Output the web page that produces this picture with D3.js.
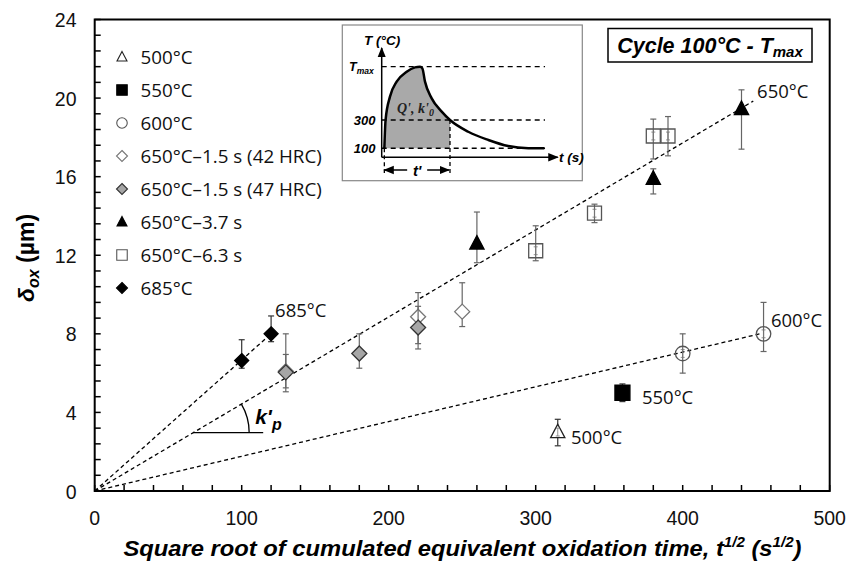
<!DOCTYPE html>
<html><head><meta charset="utf-8">
<script src="https://cdn.jsdelivr.net/npm/d3@7"></script>
<style>
body{margin:0;background:#fff;}
svg{display:block;}
</style></head>
<body>
<svg id="c" width="847" height="561"></svg>
<script>
// ---------- DATA ----------
const xTicks = [0,100,200,300,400,500];
const yTicks = [0,4,8,12,16,20,24];
const legendLabels = ["500°C","550°C","600°C","650°C\u20131.5 s (42 HRC)","650°C\u20131.5 s (47 HRC)","650°C\u20133.7 s","650°C\u20136.3 s","685°C"];
const legendKeys = ["s500","s550","s600","s650a","s650b","s650c","s650d","s685"];
// points: [x, y, low, high]
const s500  = [[315, 3.0, 2.3, 3.65]];
const s550  = [[359, 5.0, 4.55, 5.45]];
const s600  = [[400, 7.0, 6.0, 8.0],[455, 8.0, 7.1, 9.6]];
const s650a = [[130, 6.1, 5.25, 6.95],[220, 8.87, 7.5, 10.1],[250, 9.13, 8.37, 10.6]];
const s650b = [[130, 6.04, 5.05, 8.0],[180, 7.0, 6.25, 8.0],[220, 8.32, 7.23, 9.4]];
const s650c = [[260, 12.6, 11.62, 14.2],[380, 15.9, 15.12, 16.4],[440, 19.45, 17.4, 20.42]];
const s650d = [[300, 12.23, 11.72, 13.5],[340, 14.14, 13.66, 14.6],[380, 18.07, 16.9, 18.93],[390, 18.07, 17.06, 19.06]];
const s685  = [[100, 6.64, 6.25, 7.7],[120, 8.0, 7.6, 8.91]];
// small inner error bars (±) drawn inside open markers
const innerErr = 0.2;
// fitted lines through origin: [slope, xEnd]
const fit685 = [0.0667, 122];
const fit650 = [0.0443, 448];
const fit600 = [0.01768, 454];
// point labels: [text, x, y(baseline)]
const ptLabels = [["685°C",122.7,8.88],["650°C",450.6,19.98],["600°C",460,8.35],["550°C",372.3,4.43],["500°C",324,2.40]];
// inset curve (time, temperature) – schematic
const insetT    = [0.15,0.22,0.47,0.85,1.42,1.89,2.18,2.31,2.46,2.84,3.41,3.88,4.92,6.06,7.19,8.33,9.24];
const insetTemp = [100,300,465,571,641,672,677,665,571,453,359,300,217,159,116,101,100];
const insetTmax = 677, insetTprime = 3.88;

// ---------- SETUP ----------
const svg = d3.select("#c");
const x = d3.scaleLinear().domain([0,500]).range([94.7,829.7]);
const y = d3.scaleLinear().domain([0,24]).range([491,19.5]);
const numFont = "'Liberation Sans',Arial,sans-serif";
const txtFont = "'Open Sans','Noto Sans',sans-serif";
const grey = "#555";

// frame
svg.append("rect").attr("x",x(0)).attr("y",y(24)).attr("width",x(500)-x(0)).attr("height",y(0)-y(24))
  .attr("fill","none").attr("stroke","#000").attr("stroke-width",2);

// ticks (inside)
const xMinor = d3.range(0,501,20);
svg.append("g").selectAll("line").data(xMinor).join("line")
  .attr("x1",d=>x(d)).attr("x2",d=>x(d)).attr("y1",y(0)).attr("y2",y(0)-6)
  .attr("stroke","#000").attr("stroke-width",1.5);
const yMinor = d3.range(0,24.01,0.8);
svg.append("g").selectAll("line").data(yMinor).join("line")
  .attr("x1",x(0)).attr("x2",x(0)+6).attr("y1",d=>y(d)).attr("y2",d=>y(d))
  .attr("stroke","#000").attr("stroke-width",1.5);

// tick labels
svg.append("g").selectAll("text").data(xTicks).join("text")
  .attr("x",d=>x(d)).attr("y",y(0)+34).attr("text-anchor","middle")
  .attr("font-family",numFont).attr("font-size",19.5).attr("fill","#111").text(d=>d);
svg.append("g").selectAll("text").data(yTicks).join("text")
  .attr("x",76.5).attr("y",d=>y(d)+7.5).attr("text-anchor","end")
  .attr("font-family",numFont).attr("font-size",19.5).attr("fill","#111").text(d=>d);

// axis titles
const xt = svg.append("text").attr("x",462.5).attr("y",556).attr("text-anchor","middle")
  .attr("font-family","'Liberation Sans',Arial,sans-serif").attr("font-size",22)
  .attr("font-weight","bold").attr("font-style","italic")
  .attr("textLength",678).attr("lengthAdjust","spacingAndGlyphs");
xt.append("tspan").text("Square root of cumulated equivalent oxidation time, t");
xt.append("tspan").attr("font-size",14).attr("dy",-9).text("1/2");
xt.append("tspan").attr("dy",9).text(" (s");
xt.append("tspan").attr("font-size",14).attr("dy",-9).text("1/2");
xt.append("tspan").attr("dy",9).text(")");

const yt = svg.append("text").attr("transform","translate(34,258) rotate(-90)").attr("text-anchor","middle")
  .attr("font-family","'Liberation Sans',Arial,sans-serif").attr("font-size",23).attr("font-weight","bold");
yt.append("tspan").attr("font-style","italic").text("δ");
yt.append("tspan").attr("font-style","italic").attr("font-size",16).attr("dy",5).text("ox");
yt.append("tspan").attr("dy",-5).text(" (µm)");

// fit lines
[fit685,fit650,fit600].forEach(f=>{
  svg.append("line").attr("x1",x(0)).attr("y1",y(0)).attr("x2",x(f[1])).attr("y2",y(f[0]*f[1]))
    .attr("stroke","#000").attr("stroke-width",1.3).attr("stroke-dasharray","4,3");
});

// k'p annotation
const kx0 = 67, ky0 = fit650[0]*67;
const kpx = x(kx0), kpy = y(ky0);
svg.append("line").attr("x1",kpx).attr("y1",kpy).attr("x2",kpx+70).attr("y2",kpy).attr("stroke","#000").attr("stroke-width",1.3);
const ang = Math.atan2(y(0)-y(fit650[0]*100), x(100)-x(0));
const R = 56;
svg.append("path").attr("d",`M${kpx+R*Math.cos(ang)},${kpy-R*Math.sin(ang)} A${R},${R} 0 0 1 ${kpx+R},${kpy}`)
  .attr("fill","none").attr("stroke","#000").attr("stroke-width",1.3);
const kt = svg.append("text").attr("x",kpx+62).attr("y",kpy-9)
  .attr("font-family","'Liberation Sans',Arial,sans-serif").attr("font-size",21).attr("font-weight","bold").attr("font-style","italic");
kt.append("tspan").text("k'");
kt.append("tspan").attr("font-size",16).attr("dy",6).text("p");

// error bars
function errBars(data, color){
  const g = svg.append("g").attr("stroke",color).attr("stroke-width",1.2);
  data.forEach(d=>{
    g.append("line").attr("x1",x(d[0])).attr("x2",x(d[0])).attr("y1",y(d[2])).attr("y2",y(d[3]));
    g.append("line").attr("x1",x(d[0])-3).attr("x2",x(d[0])+3).attr("y1",y(d[2])).attr("y2",y(d[2]));
    g.append("line").attr("x1",x(d[0])-3).attr("x2",x(d[0])+3).attr("y1",y(d[3])).attr("y2",y(d[3]));
  });
}
function inner(data){
  const g = svg.append("g").attr("stroke","#777").attr("stroke-width",0.8);
  data.forEach(d=>{
    const a=y(d[1]-innerErr), b=y(d[1]+innerErr);
    g.append("line").attr("x1",x(d[0])).attr("x2",x(d[0])).attr("y1",a).attr("y2",b);
    g.append("line").attr("x1",x(d[0])-2).attr("x2",x(d[0])+2).attr("y1",a).attr("y2",a);
    g.append("line").attr("x1",x(d[0])-2).attr("x2",x(d[0])+2).attr("y1",b).attr("y2",b);
  });
}

// markers
const styles = {
  s500:{shape:"tri",fill:"#fff",stroke:"#222",size:15},
  s550:{shape:"sq",fill:"#000",stroke:"#000",size:15},
  s600:{shape:"circ",fill:"none",stroke:grey,size:14.5},
  s650a:{shape:"dia",fill:"#fff",stroke:"#777",size:15},
  s650b:{shape:"dia",fill:"#a6a6a6",stroke:"#333",size:15},
  s650c:{shape:"tri",fill:"#000",stroke:"#000",size:15},
  s650d:{shape:"sq",fill:"none",stroke:grey,size:14},
  s685:{shape:"dia",fill:"#000",stroke:"#000",size:14}
};
function shapePath(shape,s){
  const h=s/2;
  if(shape==="tri") return `M0,${-h*1.05}L${h*0.95},${h*0.75}L${-h*0.95},${h*0.75}Z`;
  if(shape==="sq") return `M${-h},${-h}H${h}V${h}H${-h}Z`;
  if(shape==="dia") return `M0,${-h}L${h},0L0,${h}L${-h},0Z`;
  return `M${h},0A${h},${h} 0 1 1 ${-h},0A${h},${h} 0 1 1 ${h},0Z`;
}
function markers(data,st){
  svg.append("g").selectAll("path").data(data).join("path")
    .attr("transform",d=>`translate(${x(d[0])},${y(d[1])})`)
    .attr("d",shapePath(st.shape,st.size))
    .attr("fill",st.fill).attr("stroke",st.stroke).attr("stroke-width",1.3);
}
const seriesData = {s500,s550,s600,s650a,s650b,s650c,s650d,s685};
["s650a","s650b","s685","s650c","s600","s550","s500","s650d"].forEach(k=>{
  errBars(seriesData[k], k==="s685"||k==="s550"||k==="s500" ? "#333":"#666");
  markers(seriesData[k], styles[k]);
});
inner(s650d); inner(s600); inner(s500);

// point labels
svg.append("g").selectAll("text").data(ptLabels).join("text")
  .attr("x",d=>x(d[1])).attr("y",d=>y(d[2]))
  .attr("font-family",txtFont).attr("font-size",18.5).attr("fill","#111").text(d=>d[0]);

// legend
const lg = svg.append("g");
legendKeys.forEach((k,i)=>{
  const cy = 57 + i*33;
  const st = styles[k];
  const ls = st.shape==="dia" ? 11 : (st.shape==="circ" ? 10.5 : 10.5);
  lg.append("path").attr("transform",`translate(122,${cy})`).attr("d",shapePath(st.shape,ls))
    .attr("fill",st.fill==="none"?"#fff":st.fill).attr("stroke",st.stroke).attr("stroke-width",1.1);
  lg.append("text").attr("x",140.5).attr("y",cy+6.6).attr("font-family",txtFont).attr("font-size",18.8)
    .attr("fill","#111").text(legendLabels[i]);
});

// title box
svg.append("rect").attr("x",608).attr("y",28.5).attr("width",204).attr("height",33.5)
  .attr("fill","#fff").attr("stroke","#000").attr("stroke-width",1.5);
const tt = svg.append("text").attr("x",710).attr("y",53).attr("text-anchor","middle")
  .attr("font-family","'Liberation Sans',Arial,sans-serif").attr("font-size",21.5).attr("font-weight","bold").attr("font-style","italic");
tt.append("tspan").text("Cycle 100°C - T");
tt.append("tspan").attr("font-size",15).attr("dy",4).text("max");

// ---------- INSET ----------
const ig = svg.append("g");
ig.append("rect").attr("x",342.3).attr("y",25).attr("width",240).attr("height",155.7)
  .attr("fill","#fff").attr("stroke","#888").attr("stroke-width",1.2);
const ix = d3.scaleLinear().domain([0,10]).range([381.7,557.7]);
const iy = d3.scaleLinear().domain([100,300]).range([148.3,120]);
const ipts = insetT.map((t,i)=>[t,insetTemp[i]]);
const shade = ipts.filter(p=>p[0]<=insetTprime);
ig.append("path").datum(shade)
  .attr("d",d3.area().x(d=>ix(d[0])).y0(iy(100)).y1(d=>iy(d[1])).curve(d3.curveMonotoneX))
  .attr("fill","#a9a9a9");
// dashed guides
[insetTmax,300,100].forEach(v=>{
  ig.append("line").attr("x1",ix(0)).attr("x2",ix(9.28)).attr("y1",iy(v)).attr("y2",iy(v))
    .attr("stroke","#000").attr("stroke-width",1.4).attr("stroke-dasharray","5,4");
});
ig.append("line").attr("x1",ix(insetTprime)).attr("x2",ix(insetTprime)).attr("y1",iy(300)).attr("y2",173)
  .attr("stroke","#000").attr("stroke-width",1.3).attr("stroke-dasharray","4,3");
ig.append("line").attr("x1",ix(insetT[0])).attr("x2",ix(insetT[0])).attr("y1",iy(100)).attr("y2",173)
  .attr("stroke","#000").attr("stroke-width",1.3).attr("stroke-dasharray","4,3");
// curve
ig.append("path").datum(ipts)
  .attr("d",d3.line().x(d=>ix(d[0])).y(d=>iy(d[1])).curve(d3.curveMonotoneX))
  .attr("fill","none").attr("stroke","#000").attr("stroke-width",2.5);
// axes with arrows
svg.append("defs").html(`<marker id="ar" viewBox="0 0 10 10" refX="9" refY="5" markerWidth="7" markerHeight="7" orient="auto-start-reverse"><path d="M0,1L10,5L0,9Z" fill="#000"/></marker>`);
const ax0 = iy(36.4);
ig.append("line").attr("x1",ix(0)).attr("y1",ax0).attr("x2",ix(0)).attr("y2",48)
  .attr("stroke","#000").attr("stroke-width",1.5).attr("marker-end","url(#ar)");
ig.append("line").attr("x1",ix(0)).attr("y1",ax0).attr("x2",ix(10)).attr("y2",ax0)
  .attr("stroke","#000").attr("stroke-width",1.5).attr("marker-end","url(#ar)");
// t' arrow
const ty = 170;
ig.append("line").attr("x1",ix(insetT[0])).attr("x2",ix(insetTprime)-1).attr("y1",ty).attr("y2",ty)
  .attr("stroke","#000").attr("stroke-width",1.5).attr("marker-end","url(#ar)").attr("marker-start","url(#ar)");
const tmid = (ix(insetT[0])+ix(insetTprime))/2;
ig.append("rect").attr("x",tmid-10).attr("y",ty-9).attr("width",20).attr("height",18).attr("fill","#fff");
const bi = "'Liberation Sans',Arial,sans-serif";
ig.append("text").attr("x",tmid).attr("y",ty+6).attr("text-anchor","middle")
  .attr("font-family",bi).attr("font-size",15).attr("font-weight","bold").attr("font-style","italic").text("t'");
// inset labels
ig.append("text").attr("x",364).attr("y",45).attr("font-family",bi).attr("font-size",13.5)
  .attr("font-weight","bold").attr("font-style","italic").text("T (°C)");
const tm = ig.append("text").attr("x",349).attr("y",iy(insetTmax)+4).attr("font-family",bi).attr("font-size",12.5)
  .attr("font-weight","bold").attr("font-style","italic");
tm.append("tspan").text("T");
tm.append("tspan").attr("font-size",8.5).attr("dy",3).text("max");
ig.append("text").attr("x",375.5).attr("y",iy(300)+4.5).attr("text-anchor","end").attr("font-family",bi).attr("font-size",13)
  .attr("font-weight","bold").attr("font-style","italic").text("300");
ig.append("text").attr("x",375.5).attr("y",iy(100)+4.5).attr("text-anchor","end").attr("font-family",bi).attr("font-size",13)
  .attr("font-weight","bold").attr("font-style","italic").text("100");
ig.append("text").attr("x",559).attr("y",ax0+5).attr("font-family",bi).attr("font-size",13.5)
  .attr("font-weight","bold").attr("font-style","italic").text("t (s)");
const q = ig.append("text").attr("x",397).attr("y",112.5).attr("font-family","'Liberation Serif','DejaVu Serif',serif")
  .attr("font-size",14).attr("font-style","italic").attr("font-weight","bold").attr("fill","#222");
q.append("tspan").text("Q', k'");
q.append("tspan").attr("font-size",10).attr("dy",3).text("0");
</script>
</body></html>
